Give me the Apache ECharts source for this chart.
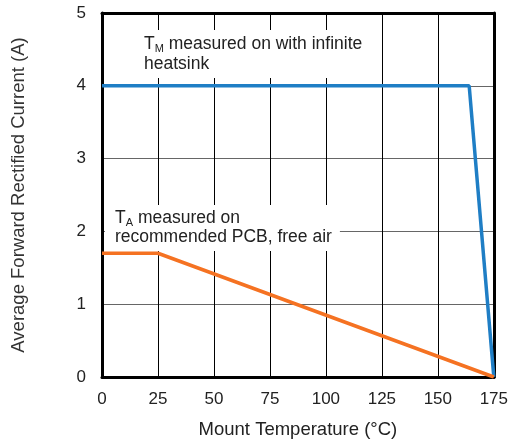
<!DOCTYPE html>
<html>
<head>
<meta charset="utf-8">
<script src="https://cdn.jsdelivr.net/npm/echarts@6/dist/echarts.min.js"></script>
<style>html,body{margin:0;padding:0;background:#fff;}#c{width:511px;height:444px;}</style>
</head>
<body>
<div id="c"></div>
<script>
var xTicks = [0, 25, 50, 75, 100, 125, 150, 175];
var yTicks = [0, 1, 2, 3, 4, 5];
var tmSeries = [[0, 4], [164, 4], [175, 0]];
var taSeries = [[0, 1.7], [25, 1.7], [175, 0]];
var xName = 'Mount Temperature (°C)';
var yName = 'Average Forward Rectified Current (A)';

var FONT = '"Liberation Sans", Arial, sans-serif';
var chart = echarts.init(document.getElementById('c'));
var lbl = {fontFamily: FONT, fontSize: 17, color: '#222'};
var option = {
  animation: false,
  grid: {left: 102, right: 17, top: 13, bottom: 66},
  xAxis: [{
    type: 'value', min: xTicks[0], max: xTicks[xTicks.length - 1], interval: 25,
    position: 'bottom',
    name: xName, nameLocation: 'middle', nameGap: 43,
    nameTextStyle: {fontFamily: FONT, fontSize: 18.5, color: '#222'},
    axisLine: {show: true, lineStyle: {color: '#000', width: 3}},
    axisTick: {show: false},
    axisLabel: Object.assign({margin: 14}, lbl),
    splitLine: {show: true, lineStyle: {color: '#000', width: 1}}
  }, {
    type: 'value', min: xTicks[0], max: xTicks[xTicks.length - 1], interval: 25,
    position: 'top',
    axisLine: {show: true, onZero: false, lineStyle: {color: '#000', width: 3}},
    axisTick: {show: false}, axisLabel: {show: false}, splitLine: {show: false}
  }],
  yAxis: [{
    type: 'value', min: yTicks[0], max: yTicks[yTicks.length - 1], interval: 1,
    position: 'left',
    name: yName, nameLocation: 'middle', nameGap: 74,
    nameTextStyle: {fontFamily: FONT, fontSize: 18.5, color: '#333'},
    axisLine: {show: true, lineStyle: {color: '#000', width: 3}},
    axisTick: {show: false},
    axisLabel: Object.assign({margin: 16}, lbl),
    splitLine: {show: true, lineStyle: {color: '#666', width: 1}}
  }, {
    type: 'value', min: yTicks[0], max: yTicks[yTicks.length - 1], interval: 1,
    position: 'right',
    axisLine: {show: true, onZero: false, lineStyle: {color: '#000', width: 3}},
    axisTick: {show: false}, axisLabel: {show: false}, splitLine: {show: false}
  }],
  series: [{
    type: 'line', data: tmSeries, symbol: 'none', z: 5,
    lineStyle: {color: '#1f7ec5', width: 3.5}
  }, {
    type: 'line', data: taSeries, symbol: 'none', z: 5,
    lineStyle: {color: '#f57222', width: 3.5}
  }],
  graphic: [{
    type: 'text', left: 138, top: 30, z: 100,
    style: {
      text: '{n|T}{s|M}{n| measured on with infinite}\n{n|heatsink}',
      backgroundColor: '#fff', padding: [4, 6, 4, 6],
      rich: {
        n: {fontFamily: FONT, fontSize: 17.5, lineHeight: 20, fill: '#222'},
        s: {fontFamily: FONT, fontSize: 11, lineHeight: 13, verticalAlign: 'bottom', fill: '#222'}
      }
    }
  }, {
    type: 'text', left: 105, top: 205, z: 100,
    style: {
      text: '{n|T}{s|A}{n| measured on}\n{n|recommended PCB, free air}',
      backgroundColor: '#fff', padding: [4, 8, 4, 10],
      rich: {
        n: {fontFamily: FONT, fontSize: 17.5, lineHeight: 19, fill: '#222'},
        s: {fontFamily: FONT, fontSize: 11, lineHeight: 13, verticalAlign: 'bottom', fill: '#222'}
      }
    }
  }]
};
chart.setOption(option);
</script>
</body>
</html>
